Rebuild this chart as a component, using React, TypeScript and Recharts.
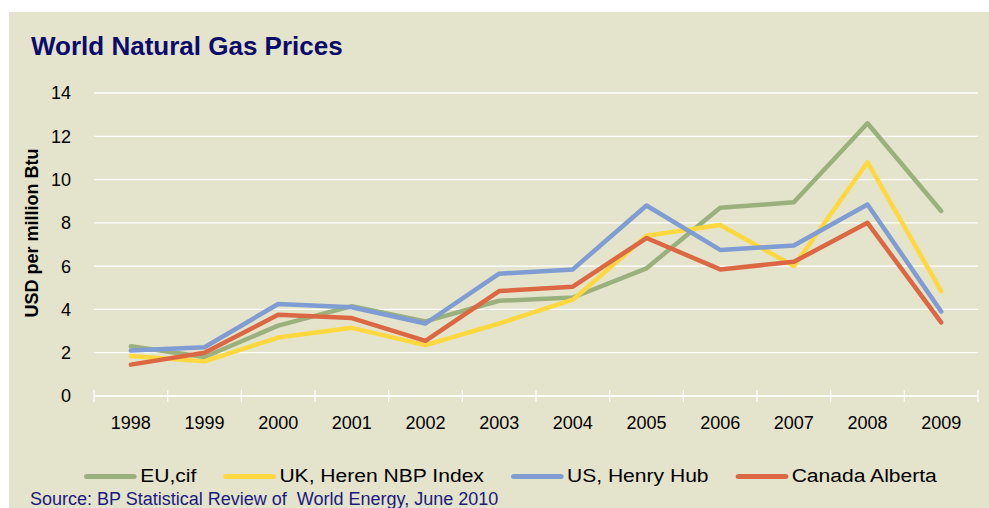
import { LineChart, Line, XAxis, YAxis, CartesianGrid, Legend } from "recharts";

const years = ["1998", "1999", "2000", "2001", "2002", "2003", "2004", "2005", "2006", "2007", "2008", "2009"];
const euCif = [2.3, 1.8, 3.25, 4.15, 3.45, 4.4, 4.55, 5.9, 8.7, 8.95, 12.6, 8.55];
const ukNbp = [1.85, 1.6, 2.7, 3.15, 2.35, 3.35, 4.45, 7.4, 7.9, 6.0, 10.8, 4.85];
const usHenry = [2.1, 2.25, 4.25, 4.1, 3.35, 5.65, 5.85, 8.8, 6.75, 6.95, 8.85, 3.9];
const caAlberta = [1.45, 2.0, 3.75, 3.6, 2.55, 4.85, 5.05, 7.3, 5.85, 6.2, 8.0, 3.4];
const yTicks = [0, 2, 4, 6, 8, 10, 12, 14];
const boundaryTicks = years.map((_, i) => i).concat([years.length]);

const SERIES = [
  { key: "eu", name: "EU,cif", color: "#9BB17D" },
  { key: "uk", name: "UK, Heren NBP Index", color: "#FFD83F" },
  { key: "us", name: "US, Henry Hub", color: "#7F9CD3" },
  { key: "ca", name: "Canada Alberta", color: "#DC6843" },
];

const data = years.map((year, i) => ({
  year,
  slot: i + 0.5,
  eu: euCif[i],
  uk: ukNbp[i],
  us: usHenry[i],
  ca: caAlberta[i],
}));

const FONT = "Arial, 'Liberation Sans', sans-serif";

function LegendRow({ payload }: any) {
  const order = SERIES.map((s) => s.name);
  const items = [...(payload || [])].sort((a: any, b: any) => order.indexOf(a.value) - order.indexOf(b.value));
  return (
    <div
      style={{
        display: "flex",
        alignItems: "center",
        fontFamily: FONT,
        fontSize: 18,
        lineHeight: "20px",
        color: "#000",
        transform: "scaleX(1.17)",
        transformOrigin: "left center",
        whiteSpace: "nowrap",
      }}
    >
      {items.map((p: any) => (
        <div key={p.value} style={{ display: "flex", alignItems: "center", marginRight: 23 }}>
          <div style={{ width: 45, height: 5, borderRadius: 3, background: p.color, marginRight: 3 }} />
          <span>{p.value}</span>
        </div>
      ))}
    </div>
  );
}

export default function App() {
  return (
    <div style={{ position: "absolute", left: 0, top: 0, width: 989, height: 508, background: "#fff", overflow: "hidden" }}>
      <div style={{ position: "absolute", left: 9, top: 12, right: 0, bottom: 0, background: "#E4E3CB" }} />
      <div
        style={{
          position: "absolute",
          left: 31,
          top: 33,
          fontFamily: FONT,
          fontSize: 26,
          lineHeight: "26px",
          fontWeight: "bold",
          color: "#0A0A6B",
          whiteSpace: "nowrap",
        }}
      >
        World Natural Gas Prices
      </div>
      <div
        style={{
          position: "absolute",
          left: 32 - 110,
          top: 233 - 10,
          width: 220,
          textAlign: "center",
          fontFamily: FONT,
          fontSize: 18,
          lineHeight: "20px",
          fontWeight: "bold",
          color: "#000",
          transform: "rotate(-90deg)",
          whiteSpace: "nowrap",
        }}
      >
        USD per million Btu
      </div>
      <div style={{ position: "absolute", left: 0, top: 0 }}>
        <LineChart width={989} height={508} data={data} margin={{ top: 93, right: 11, left: 34, bottom: 82 }}>
          <CartesianGrid vertical={false} stroke="#ffffff" strokeWidth={1.3} />
          {/* boundary tick marks between categories */}
          <XAxis
            xAxisId={0}
            dataKey="slot"
            type="number"
            domain={[0, years.length]}
            ticks={boundaryTicks}
            allowDataOverflow
            height={1}
            tickFormatter={() => ""}
            tickSize={12}
            tickLine={{ stroke: "#ffffff", strokeWidth: 1.3, transform: "translate(0,-6)" }}
            axisLine={{ stroke: "#ffffff", strokeWidth: 1.3 }}
          />
          <XAxis
            xAxisId="cat"
            dataKey="year"
            scale="band"
            height={29}
            axisLine={false}
            tickLine={false}
            tickSize={5}
            tickMargin={14}
            interval={0}
            tick={{ fill: "#000", fontSize: 18, fontFamily: FONT }}
          />
          <YAxis
            width={60}
            domain={[0, 14]}
            ticks={yTicks}
            axisLine={false}
            tickLine={false}
            tickSize={0}
            tickMargin={23}
            tick={{ fill: "#000", fontSize: 18, fontFamily: FONT }}
          />
          <Legend
            layout="horizontal"
            verticalAlign="middle"
            align="center"
            content={<LegendRow />}
            wrapperStyle={{ position: "absolute", left: 84, top: 466, width: 900, height: 20 }}
          />
          {SERIES.map((s) => (
            <Line
              key={s.key}
              xAxisId="cat"
              type="linear"
              dataKey={s.key}
              name={s.name}
              stroke={s.color}
              strokeWidth={4.5}
              strokeLinecap="round"
              strokeLinejoin="round"
              dot={false}
              activeDot={false}
              isAnimationActive={false}
            />
          ))}
        </LineChart>
      </div>
      <div
        style={{
          position: "absolute",
          left: 30,
          top: 490,
          fontFamily: FONT,
          fontSize: 18,
          lineHeight: "18px",
          color: "#1A1A80",
          whiteSpace: "pre",
        }}
      >
        {"Source: BP Statistical Review of  World Energy, June 2010"}
      </div>
    </div>
  );
}
